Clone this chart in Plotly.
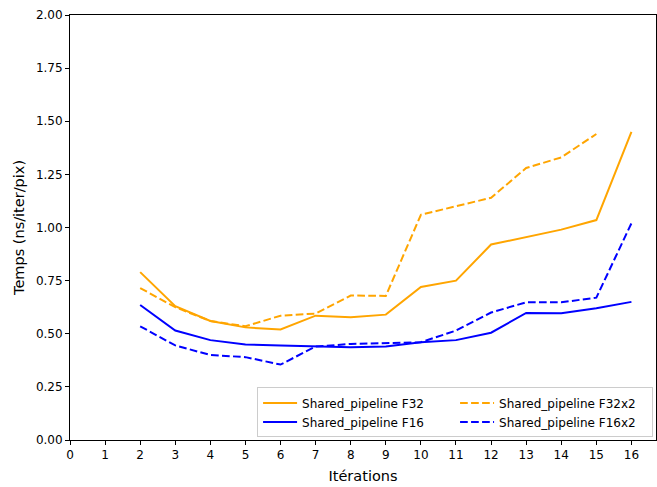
import plotly.graph_objects as go

iterations = list(range(2, 17))
iterations_x2 = list(range(2, 16))
f32 = [0.79, 0.63, 0.56, 0.53, 0.52, 0.585, 0.578, 0.59, 0.72, 0.75, 0.92, 0.955, 0.99, 1.035, 1.45]
f32x2 = [0.715, 0.625, 0.56, 0.535, 0.585, 0.595, 0.68, 0.678, 1.06, 1.10, 1.14, 1.28, 1.33, 1.44]
f16 = [0.635, 0.515, 0.47, 0.45, 0.445, 0.44, 0.437, 0.44, 0.46, 0.47, 0.505, 0.598, 0.597, 0.62, 0.65]
f16x2 = [0.535, 0.445, 0.40, 0.39, 0.355, 0.44, 0.452, 0.455, 0.46, 0.515, 0.60, 0.648, 0.648, 0.67, 1.02]

ORANGE = "#FFA500"
BLUE = "#0000FF"
DASH = "7.7px,3.3px"

fig = go.Figure()
fig.add_trace(go.Scatter(x=iterations, y=f32, mode="lines", name="Shared_pipeline F32",
                         line=dict(color=ORANGE, width=2)))
fig.add_trace(go.Scatter(x=iterations_x2, y=f32x2, mode="lines", name="Shared_pipeline F32x2",
                         line=dict(color=ORANGE, width=2, dash=DASH)))
fig.add_trace(go.Scatter(x=iterations, y=f16, mode="lines", name="Shared_pipeline F16",
                         line=dict(color=BLUE, width=2)))
fig.add_trace(go.Scatter(x=iterations, y=f16x2, mode="lines", name="Shared_pipeline F16x2",
                         line=dict(color=BLUE, width=2, dash=DASH)))

font = "DejaVu Sans"
fig.update_layout(
    width=657, height=487,
    margin=dict(l=70, r=1, t=15, b=47),
    paper_bgcolor="white", plot_bgcolor="white",
    font=dict(family=font, size=12, color="black"),
    showlegend=True,
    legend=dict(orientation="h", x=0.995, y=0.006, xanchor="right", yanchor="bottom",
                entrywidth=148, bgcolor="rgba(255,255,255,0.8)", bordercolor="#cccccc",
                borderwidth=1, font=dict(size=12, family=font), tracegroupgap=0,
                itemwidth=34),
    xaxis=dict(range=[0, 16.7], tickmode="array", tickvals=list(range(0, 17)),
               showgrid=False, zeroline=False, showline=True, linecolor="black",
               linewidth=1, mirror=True, ticks="outside", ticklen=4, tickcolor="black",
               tickfont=dict(size=12),
               title=dict(text="Itérations", standoff=9, font=dict(size=14.5))),
    yaxis=dict(range=[0, 2.0], tickmode="array",
               tickvals=[0, 0.25, 0.5, 0.75, 1.0, 1.25, 1.5, 1.75, 2.0],
               ticktext=["0.00", "0.25", "0.50", "0.75", "1.00", "1.25", "1.50", "1.75", "2.00"],
               showgrid=False, zeroline=False, showline=True, linecolor="black",
               linewidth=1, mirror=True, ticks="outside", ticklen=4, tickcolor="black",
               tickfont=dict(size=12),
               title=dict(text="Temps (ns/iter/pix)", standoff=7, font=dict(size=14.5))),
)

fig.write_html("out.html", config={"displayModeBar": False},
               post_script="document.body.style.margin='0';")
